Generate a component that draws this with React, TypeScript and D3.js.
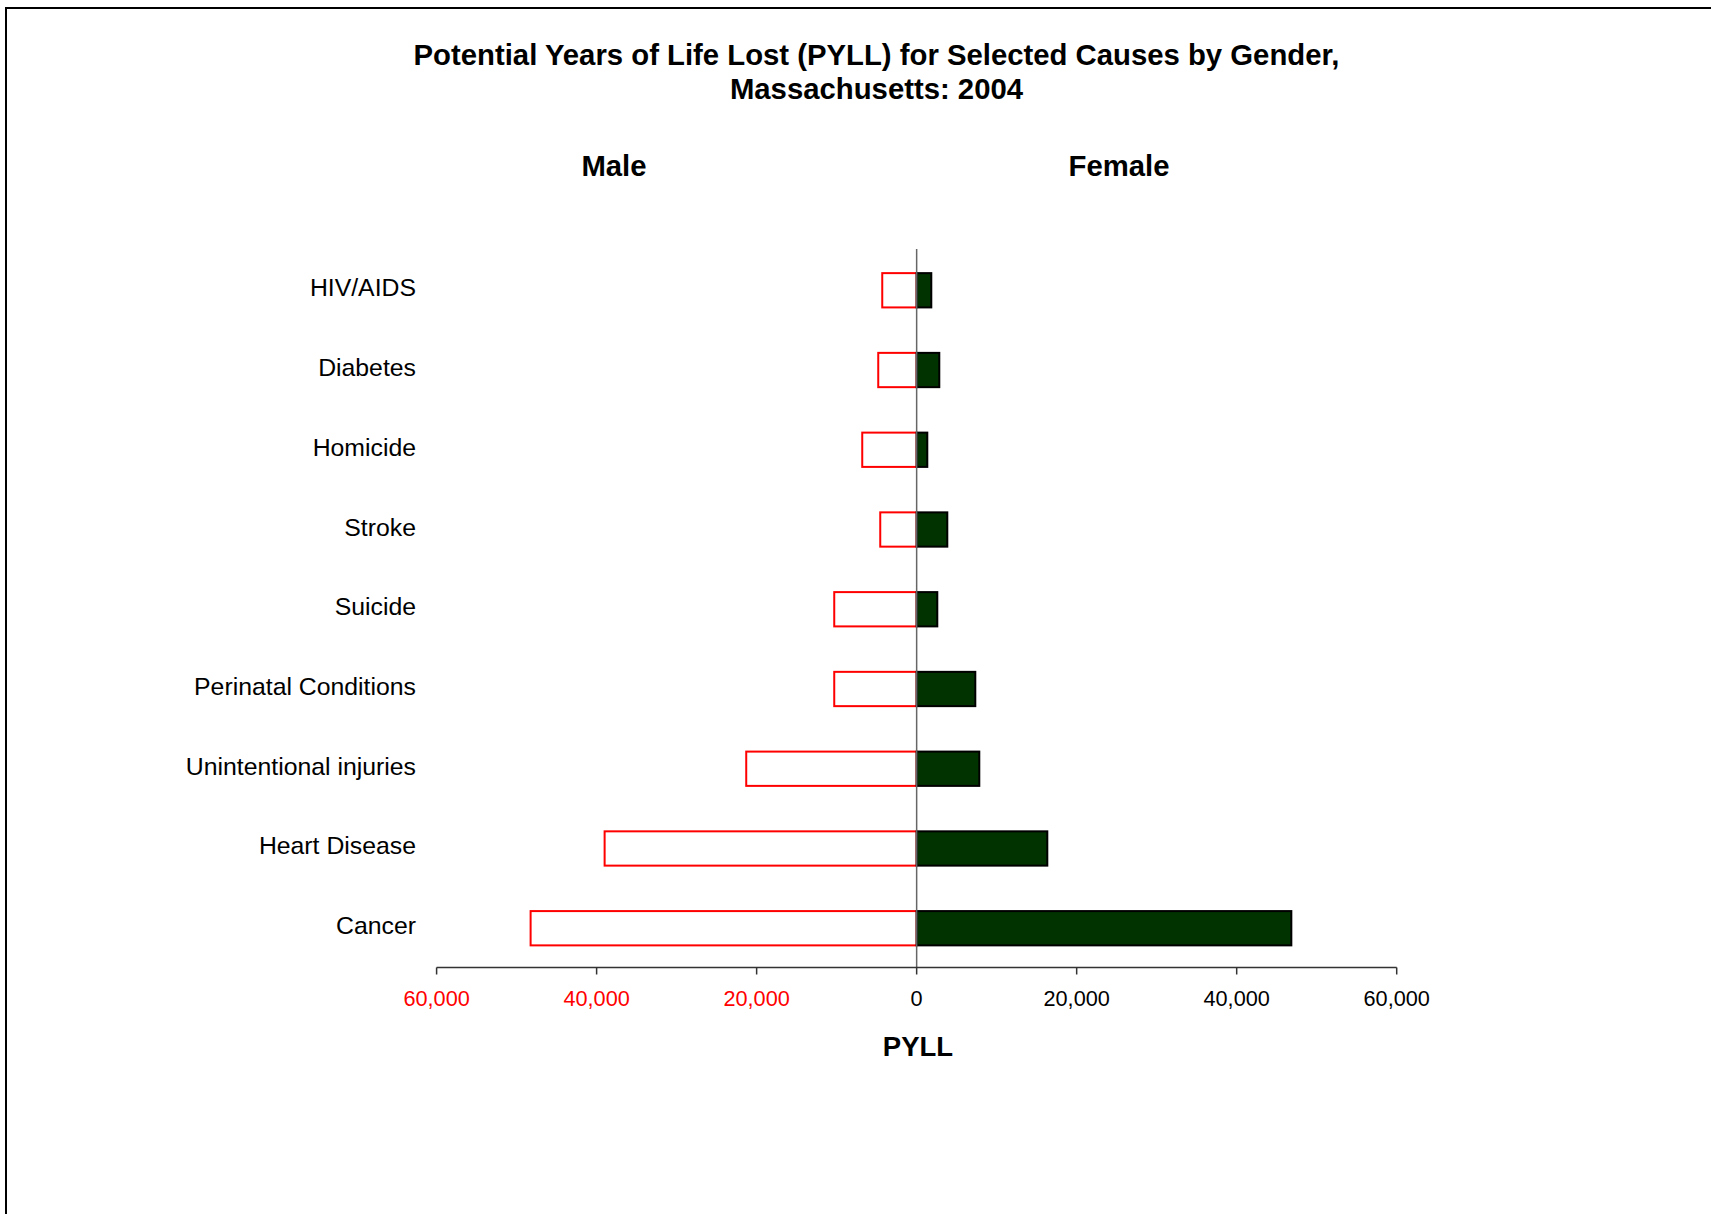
import React from "react";
import * as d3 from "d3";

const categories = [
  "HIV/AIDS",
  "Diabetes",
  "Homicide",
  "Stroke",
  "Suicide",
  "Perinatal Conditions",
  "Unintentional injuries",
  "Heart Disease",
  "Cancer",
];
const maleValues = [4300, 4800, 6800, 4550, 10300, 10300, 21300, 39000, 48250];
const femaleValues = [1830, 2830, 1330, 3830, 2580, 7330, 7830, 16330, 46830];
const tickValues = [-60000, -40000, -20000, 0, 20000, 40000, 60000];
const titleLines = [
  "Potential Years of Life Lost (PYLL) for Selected Causes by Gender,",
  "Massachusetts: 2004",
];

const W = 1711;
const H = 1214;
const FONT = "'Liberation Sans', Arial, Helvetica, sans-serif";

export default function App() {
  const x = d3.scaleLinear().domain([-60000, 60000]).range([436.6, 1396.7]);
  const y = d3
    .scaleBand<string>()
    .domain(categories)
    .range([250.4, 968.1])
    .paddingInner(0.57)
    .paddingOuter(0.285);
  const axisY = 967.5;
  const fmt = d3.format(",");
  const bw = y.bandwidth();

  return (
    <svg
      width={W}
      height={H}
      style={{ position: "absolute", left: 0, top: 0, background: "#fff" }}
      fontFamily={FONT}
    >
      <rect x={0} y={0} width={W} height={H} fill="#fff" />
      <rect x={6} y={8} width={W + 20} height={H + 20} fill="none" stroke="#000" strokeWidth={2} />

      {titleLines.map((t, i) => (
        <text
          key={t}
          x={876.5}
          y={64.5 + i * 34.3}
          textAnchor="middle"
          fontSize={29.3}
          fontWeight="bold"
          fill="#000"
        >
          {t}
        </text>
      ))}

      <text x={614} y={175.5} textAnchor="middle" fontSize={29.3} fontWeight="bold">
        Male
      </text>
      <text x={1119} y={175.5} textAnchor="middle" fontSize={29.3} fontWeight="bold">
        Female
      </text>

      {/* category labels */}
      {categories.map((c) => (
        <text
          key={c}
          x={416}
          y={(y(c) as number) + bw / 2 + 6}
          textAnchor="end"
          fontSize={24.8}
          fill="#000"
        >
          {c}
        </text>
      ))}

      {/* male bars */}
      {categories.map((c, i) => (
        <rect
          key={"m" + c}
          x={x(-maleValues[i])}
          y={y(c)}
          width={x(0) - x(-maleValues[i])}
          height={bw}
          fill="#fff"
          stroke="#ff0000"
          strokeWidth={2}
        />
      ))}

      {/* female bars */}
      {categories.map((c, i) => (
        <rect
          key={"f" + c}
          x={x(0)}
          y={y(c)}
          width={x(femaleValues[i]) - x(0)}
          height={bw}
          fill="#003300"
          stroke="#000"
          strokeWidth={2}
        />
      ))}

      {/* center line */}
      <line x1={x(0)} x2={x(0)} y1={249} y2={axisY} stroke="#666" strokeWidth={1.5} />

      {/* x axis */}
      <line x1={x(-60000)} x2={x(60000)} y1={axisY} y2={axisY} stroke="#333" strokeWidth={1.5} />
      {tickValues.map((v) => (
        <g key={v}>
          <line x1={x(v)} x2={x(v)} y1={axisY} y2={axisY + 7} stroke="#333" strokeWidth={1.5} />
          <text
            x={x(v)}
            y={1006}
            textAnchor="middle"
            fontSize={21.7}
            fill={v < 0 ? "#ff0000" : "#000"}
          >
            {fmt(Math.abs(v))}
          </text>
        </g>
      ))}

      <text x={918} y={1055.5} textAnchor="middle" fontSize={27.5} fontWeight="bold">
        PYLL
      </text>
    </svg>
  );
}
